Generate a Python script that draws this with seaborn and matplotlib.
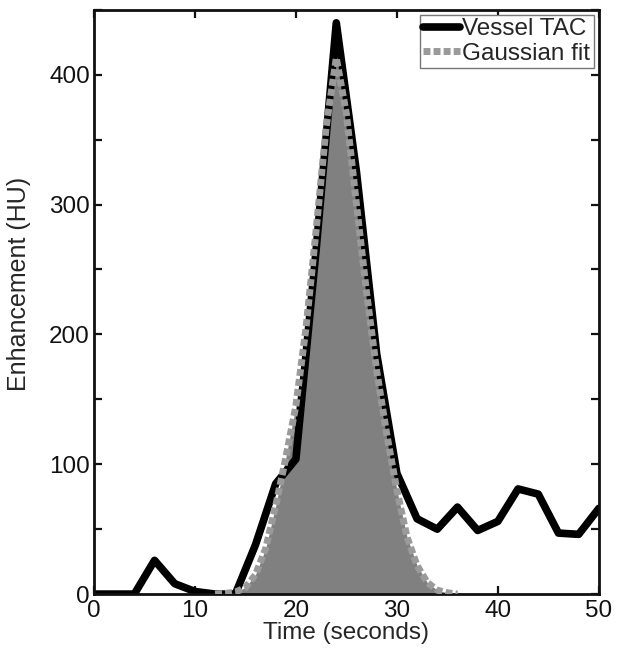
import matplotlib
matplotlib.use("Agg")
import matplotlib.pyplot as plt
import seaborn as sns
import pandas as pd
from matplotlib.ticker import MultipleLocator

# ----------
# data
# ----------
time_tac = [0, 2, 4, 6, 8, 10, 12, 14, 16, 18, 20, 22, 24, 26, 28, 30,
            32, 34, 36, 38, 40, 42, 44, 46, 48, 50]
vessel_tac = [0, 0, 0, 26, 8, 2, 0, 0, 38, 85, 104, 265, 440, 325, 185, 93,
              58, 50, 67, 49, 56, 81, 77, 47, 46, 66]

time_fit = [12, 13, 14, 15, 16, 17, 18, 19, 20, 21, 22, 23, 24, 25, 26, 27,
            28, 29, 30, 31, 32, 33, 34, 35, 36]
gauss_fit = [0, 0.5, 1.5, 5, 15, 35, 68, 105, 145, 205, 280, 360, 413, 370,
             300, 232, 172, 123, 80, 44, 22, 9, 3, 1, 0]

tac = pd.DataFrame({"t": time_tac, "v": vessel_tac})
fit = pd.DataFrame({"t": time_fit, "v": gauss_fit})

# ----------
# style
# ----------
sns.set_style("ticks")
plt.rcParams['font.family'] = ['Liberation Sans', 'DejaVu Sans']
plt.rcParams['xtick.direction'] = 'in'
plt.rcParams['ytick.direction'] = 'in'
fs = 17.5

fig = plt.figure(figsize=(6.18, 6.55), dpi=100)
ax = fig.add_axes([0.152, 0.093, 0.817, 0.892])

# ----------
# plot
# ----------
ax.fill_between(fit["t"], fit["v"], 0, color='#808080', lw=0, zorder=1)
sns.lineplot(data=tac, x="t", y="v", ax=ax, color='black', lw=5.5,
             label='Vessel TAC', zorder=2)
sns.lineplot(data=fit, x="t", y="v", ax=ax, color='#9a9a9a', lw=5,
             ls=(0, (1, 0.45)), label='Gaussian fit', zorder=3)
for ln in ax.get_lines():
    ln.set_dash_capstyle('butt')

ax.set_xlim(0, 50)
ax.set_ylim(0, 450)
ax.xaxis.set_major_locator(MultipleLocator(10))
ax.yaxis.set_major_locator(MultipleLocator(100))
ax.yaxis.set_minor_locator(MultipleLocator(50))
ax.tick_params(which='both', top=True, right=True, width=1.6,
               labelsize=fs, colors='#111111')
ax.tick_params(which='both', length=6)
ax.tick_params(axis='x', pad=4)
ax.tick_params(axis='y', pad=3)
for s in ax.spines.values():
    s.set_linewidth(2)
    s.set_color('#111111')

ax.set_xlabel('Time (seconds)', fontsize=fs, labelpad=0)
ax.set_ylabel('Enhancement (HU)', fontsize=18)
ax.yaxis.set_label_coords(-0.125, 0.53)

leg = ax.legend(loc='upper right', bbox_to_anchor=(1.0, 1.0), fontsize=fs,
                frameon=True, fancybox=False, framealpha=1, edgecolor='#777777',
                handlelength=1.5, handletextpad=0.1, borderpad=0.15,
                labelspacing=0.1, borderaxespad=0.2)
leg.get_frame().set_linewidth(1.0)

fig.savefig('out.png', dpi=100)
